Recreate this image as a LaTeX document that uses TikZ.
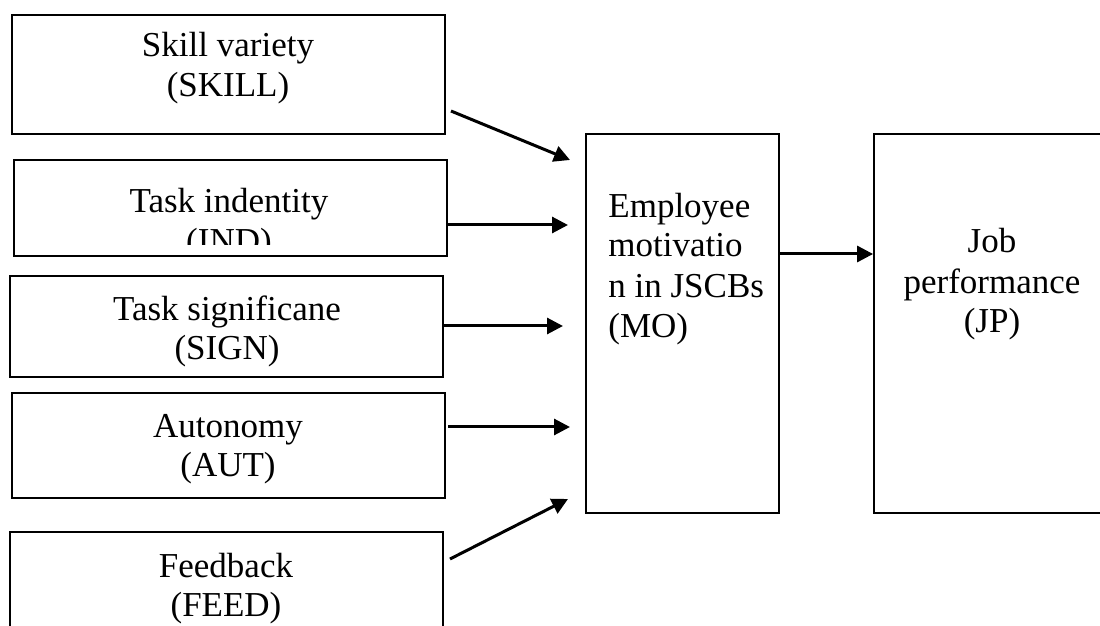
\documentclass[tikz,border=0pt]{standalone}
\usepackage{fontspec}
\setmainfont{Liberation Serif}
\usetikzlibrary{arrows.meta}
\begin{document}
\begin{tikzpicture}[x=0.5pt,y=-0.5pt,
  box/.style={draw, line width=0.9pt, inner sep=0pt},
  lbl/.style={font=\fontsize{17.5pt}{20pt}\selectfont, inner sep=0pt, anchor=base, align=center},
  conn/.style={line width=1.5pt, -{Triangle[length=8pt,width=8pt]}}]
\useasboundingbox (0,0) rectangle (1100,626);
\clip (0,0) rectangle (1100,626);

% job characteristic boxes
\node[box, minimum width=216.5pt, minimum height=59.5pt] (skill) at (228.5,74.5) {};
\node[box, minimum width=216.5pt, minimum height=48pt]   (ind)   at (230.5,208) {};
\node[box, minimum width=216.5pt, minimum height=50.5pt] (sign)  at (226.5,326.5) {};
\node[box, minimum width=216.5pt, minimum height=52.5pt] (aut)   at (228.5,445.5) {};
\node[box, minimum width=216.5pt, minimum height=64pt]   (feed)  at (226.5,596) {};

% mediator and outcome
\node[box, minimum width=96.5pt, minimum height=189.5pt] (mo) at (682.5,323.5) {};
\node[box, minimum width=118pt,  minimum height=189.5pt] (jp) at (992,323.5) {};

% labels (anchored at the baseline of their last line)
\node[lbl] (skilltxt) at (228,97) {Skill variety\\(SKILL)};
\begin{scope}
  \clip (ind.north west) rectangle (447,245);
  \node[lbl] (indtxt) at (229,253) {Task indentity\\(IND)};
\end{scope}
\node[lbl] (signtxt) at (227,360) {Task significane\\(SIGN)};
\node[lbl] (auttxt) at (228,477) {Autonomy\\(AUT)};
\node[lbl] (feedtxt) at (226,617) {Feedback\\(FEED)};
\node[lbl, anchor=base west, align=left] (motxt) at (608,337) {Employee\\motivatio\\n in JSCBs\\(MO)};
\node[lbl] (jptxt) at (992,333) {Job\\performance\\(JP)};

% arrow ends
\coordinate (s1) at (451,111);  \coordinate (e1) at (570,160);
\coordinate (s2) at (ind.east |- 0,225);  \coordinate (e2) at (568,225);
\coordinate (s3) at (sign.east |- 0,326); \coordinate (e3) at (563,326);
\coordinate (s4) at (448,427);  \coordinate (e4) at (570,427);
\coordinate (s5) at (450,559);  \coordinate (e5) at (568,499);
\coordinate (s6) at (mo.east |- 0,254);   \coordinate (e6) at (jp.west |- 0,254);

\draw[conn] (s1) -- (e1);
\draw[conn] (s2) -- (e2);
\draw[conn] (s3) -- (e3);
\draw[conn] (s4) -- (e4);
\draw[conn] (s5) -- (e5);
\draw[conn] (s6) -- (e6);
\end{tikzpicture}
\end{document}
